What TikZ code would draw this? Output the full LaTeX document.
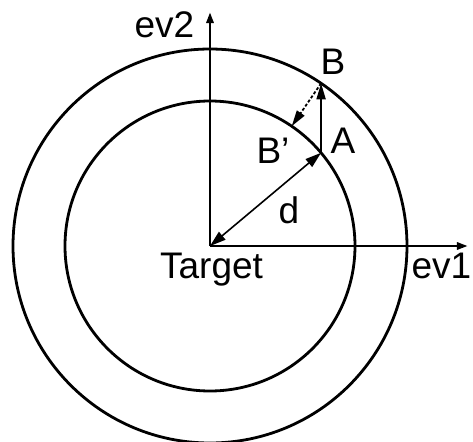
\documentclass[tikz,border=0pt]{standalone}
\usepackage{fontspec}
\setmainfont{Liberation Sans}
\usetikzlibrary{arrows.meta,calc}

\begin{document}
\begin{tikzpicture}[
  x=0.5pt,y=0.5pt,
  ring/.style={line width=1.4pt},
  axis/.style={line width=1.4pt,-{Triangle[length=5.5pt,width=3.5pt]}},
  arrow/.style={line width=0.9pt,-{Triangle[length=8pt,width=4.5pt]}},
  lab/.style={font=\fontsize{18.5}{22}\selectfont,anchor=base,inner sep=0pt},
]
\useasboundingbox (-210,-195) rectangle (263,246);
\coordinate (O) at (0,0);
\draw[ring] (O) circle (145);
\draw[ring] (O) circle (197);

\coordinate (ev1tip) at (258,0);
\coordinate (ev2tip) at (0,234);
\draw[axis] (O) -- (ev1tip);
\draw[axis] (O) -- (ev2tip);

\coordinate (A) at (40:145);
\coordinate (B) at (111.1,162.7);
\coordinate (Bp) at (55.7:145);
\draw[arrow,line width=0.8pt,{Triangle[length=8pt,width=5pt]}-{Triangle[length=8pt,width=5pt]}] (O) -- (A);
\draw[arrow] (A) -- (B);
\draw[arrow,dash pattern=on 1.5pt off 1pt] (B) -- (Bp);

\node[lab] (ev2) at (-45.5,209) {ev2};
\node[lab] (ev1) at (231.5,-32) {ev1};
\node[lab] (target) at (1.5,-32) {Target};
\node[lab] (labB) at (123,172) {B};
\node[lab] (labA) at (133,93) {A};
\node[lab] (labBp) at (63,83) {B'};
\node[lab] (labd) at (79,23) {d};
\end{tikzpicture}
\end{document}
